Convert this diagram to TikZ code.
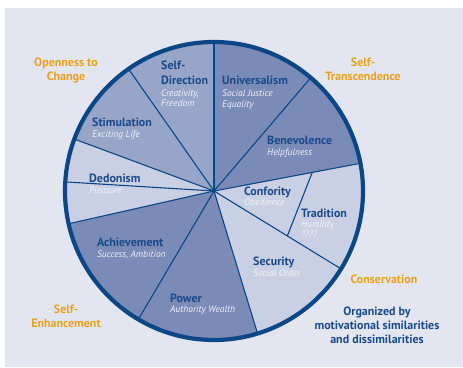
\documentclass[tikz,border=0pt]{standalone}
\usepackage{fontspec}
\setmainfont{PT Sans}
\usetikzlibrary{calc}
\definecolor{panel}{HTML}{E3E6F0}
\definecolor{ring}{HTML}{0B4686}
\definecolor{medium}{HTML}{7A8BB8}
\definecolor{lightmed}{HTML}{97A5C9}
\definecolor{light}{HTML}{CAD0E3}
\definecolor{tblue}{HTML}{1B4A8A}
\definecolor{orng}{HTML}{E8A21A}
\definecolor{subw}{HTML}{F0F2F8}
\newcommand\mywedge[3]{\fill[#1] (C) -- ++(#2:\R) arc[start angle=#2, end angle=#3, radius=\R] -- cycle;}
\begin{document}
\begin{tikzpicture}[x=1pt,y=1pt,
 lab/.style={font=\fontsize{12}{12}\selectfont\bfseries, text=tblue, anchor=base west, inner sep=0pt},
 sub/.style={font=\fontsize{9.5}{9.5}\selectfont\itshape, text=subw, anchor=base west, inner sep=0pt},
 grp/.style={font=\fontsize{12}{12}\selectfont\bfseries, text=orng, anchor=base, inner sep=0pt},
 note/.style={font=\fontsize{12}{12}\selectfont\bfseries, text=tblue, anchor=base, inner sep=0pt},
 sep/.style={draw=ring, line width=1.1pt}]
\useasboundingbox (0,0) rectangle (463,367);
\fill[panel] (5,0) rectangle (463,359);
\coordinate (C) at (214,176);
\def\R{149}
\mywedge{medium}{49.5}{90}
\mywedge{lightmed}{90}{125}
\mywedge{lightmed}{125}{159.6}
\mywedge{light}{159.6}{192.7}
\mywedge{medium}{192.7}{239.5}
\mywedge{medium}{239.5}{287}
\mywedge{light}{287}{328.5}
\mywedge{light}{328.5}{370.7}
\mywedge{medium}{10.7}{49.5}
\foreach \a in {90,49.5,10.7,-31.5,-73,-120.5,192.7,176.5,159.6,125}
  \draw[sep] (C) -- ++(\a:\R);
\coordinate (t1) at ($(C)+(10.7:100)$);
\coordinate (t2) at ($(C)+(-31.5:86)$);
\draw[sep] (t1) -- (t2);
\draw[ring, line width=4.2pt] (C) circle[radius=\R];
% segment labels
\node[lab] (sd1) at (161,297) {Self-};
\node[lab] (sd2) at (161,282) {Direction};
\node[sub] (sd3) at (161,270) {Creativity,};
\node[sub] (sd4) at (161,260) {Freedom};
\node[lab] (un1) at (222,282) {Universalism};
\node[sub] (un2) at (222,270) {Social Justice};
\node[sub] (un3) at (222,259) {Equality};
\node[lab] (st1) at (92,240) {Stimulation};
\node[sub] (st2) at (92,229) {Exciting Life};
\node[lab] (be1) at (267,222) {Benevolence};
\node[sub] (be2) at (267,211) {Helpfulness};
\node[lab] (de1) at (89,184) {Dedonism};
\node[sub] (de2) at (89,173) {Pleasure};
\node[lab] (co1) at (244,171) {Confority};
\node[sub] (co2) at (244,161) {Obedience};
\node[lab] (tr1) at (301,149) {Tradition};
\node[sub] (tr2) at (301,139) {Humility};
\node[sub] (tr3) at (301,129) {????};
\node[lab] (ac1) at (97,121) {Achievement};
\node[sub] (ac2) at (97,110) {Success, Ambition};
\node[lab] (se1) at (253,101) {Security};
\node[sub] (se2) at (253,91) {Social Order};
\node[lab] (po1) at (170,65) {Power};
\node[sub] (po2) at (170,55) {Authority Wealth};
% group labels
\node[grp] (g1a) at (66,300) {Openness to};
\node[grp] (g1b) at (66,286) {Change};
\node[grp] (g2a) at (363,300) {Self-};
\node[grp] (g2b) at (363,286) {Transcendence};
\node[grp] (g3a) at (66,54) {Self-};
\node[grp] (g3b) at (66,40) {Enhancement};
\node[grp] (g4) at (384,84) {Conservation};
\node[note] (n1) at (377,52) {Organized by};
\node[note] (n2) at (377,38) {motivational similarities};
\node[note] (n3) at (377,24) {and dissimilarities};
\end{tikzpicture}
\end{document}
